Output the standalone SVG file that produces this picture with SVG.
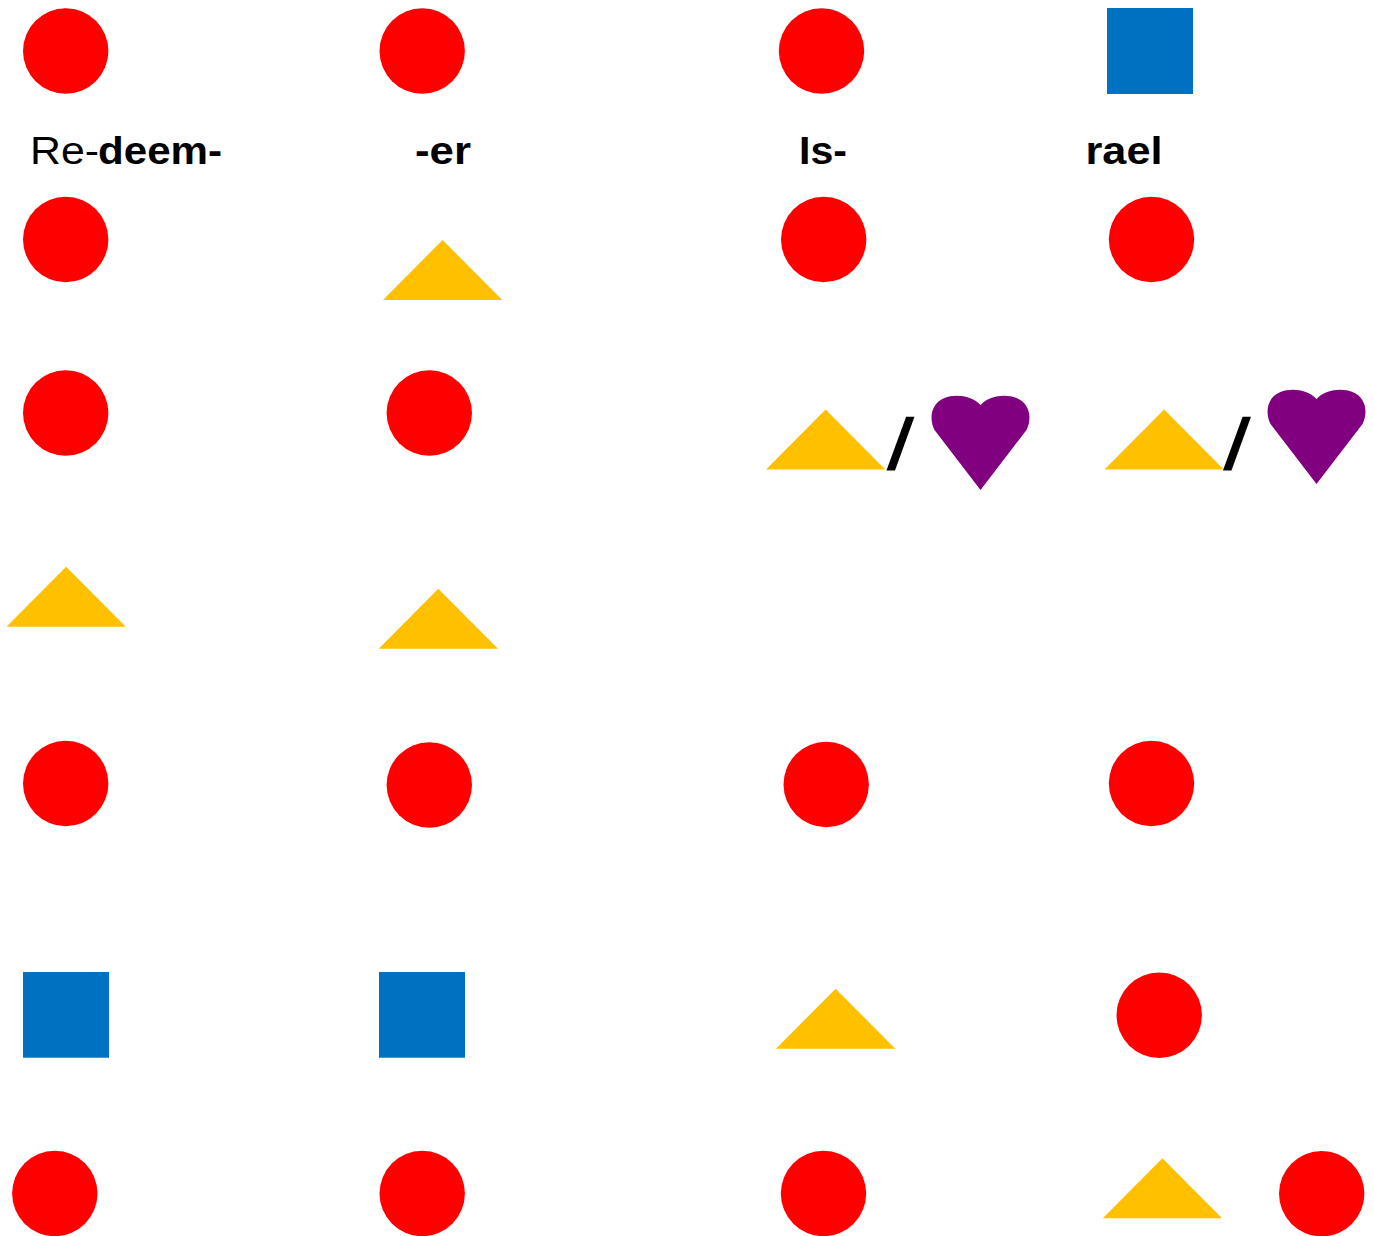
<svg xmlns="http://www.w3.org/2000/svg" xmlns:xlink="http://www.w3.org/1999/xlink" width="1374" height="1236" viewBox="0 0 1374 1236">
<style>
.c{fill:#FF0000}
.t{fill:#FFC000}
.s{fill:#0070C0}
.h{fill:#800080}
.lbl{font-family:"Liberation Sans",Arial,sans-serif;font-size:38px;fill:#000}
.b{font-weight:bold}
.sl{font-family:"Liberation Sans",Arial,sans-serif;font-size:72px;font-weight:bold;fill:#000}
</style>
<defs>
<path id="tri" d="M0 0 L59.6 -60 L119.3 0 Z"/>
<path id="heart" d="M50 7 C59 -3 76 -4 86 0 C99 5 102 20 96 32 L50 92 L4 32 C-2 20 1 5 14 0 C24 -4 41 -3 50 7 Z"/>
</defs>
<rect width="1374" height="1236" fill="#fff"/>

<g id="r1c1"><circle class="c" cx="65.7" cy="51" r="42.7"/></g>
<g id="r1c2"><circle class="c" cx="422.2" cy="51" r="42.7"/></g>
<g id="r1c3"><circle class="c" cx="821.5" cy="51" r="42.7"/></g>
<g id="r1c4"><rect class="s" x="1107" y="8" width="86" height="86"/></g>

<g id="lbl1"><text class="lbl" y="164"><tspan x="30" textLength="69" lengthAdjust="spacingAndGlyphs">Re-</tspan><tspan class="b" x="98" textLength="124" lengthAdjust="spacingAndGlyphs">deem-</tspan></text></g>
<g id="lbl2"><text class="lbl b" x="415" y="164" textLength="56" lengthAdjust="spacingAndGlyphs">-er</text></g>
<g id="lbl3"><text class="lbl b" x="799" y="164" textLength="48" lengthAdjust="spacingAndGlyphs">Is-</text></g>
<g id="lbl4"><text class="lbl b" x="1085.5" y="164" textLength="77" lengthAdjust="spacingAndGlyphs">rael</text></g>

<g id="r2c1"><circle class="c" cx="65.7" cy="239.5" r="42.7"/></g>
<g id="r2c2"><use xlink:href="#tri" href="#tri" class="t" x="383" y="300"/></g>
<g id="r2c3"><circle class="c" cx="823.7" cy="239.5" r="42.7"/></g>
<g id="r2c4"><circle class="c" cx="1151.5" cy="239.5" r="42.7"/></g>

<g id="r3c1"><circle class="c" cx="65.7" cy="413" r="42.7"/></g>
<g id="r3c2"><circle class="c" cx="429.3" cy="413" r="42.7"/></g>
<g id="r3c3">
<use xlink:href="#tri" href="#tri" class="t" x="766" y="469.5"/>
<text class="sl" transform="translate(886 469) skewX(-10)" x="0" y="0">/</text>
<use xlink:href="#heart" href="#heart" class="h" x="930.5" y="398"/>
</g>
<g id="r3c4">
<use xlink:href="#tri" href="#tri" class="t" x="1104.5" y="469.5"/>
<text class="sl" transform="translate(1222.5 469) skewX(-10)" x="0" y="0">/</text>
<use xlink:href="#heart" href="#heart" class="h" x="1266.5" y="392"/>
</g>

<g id="r4c1"><use xlink:href="#tri" href="#tri" class="t" x="6.5" y="626.7"/></g>
<g id="r4c2"><use xlink:href="#tri" href="#tri" class="t" x="378.7" y="648.7"/></g>

<g id="r5c1"><circle class="c" cx="65.7" cy="783.5" r="42.7"/></g>
<g id="r5c2"><circle class="c" cx="429.3" cy="785" r="42.7"/></g>
<g id="r5c3"><circle class="c" cx="826.2" cy="784.5" r="42.7"/></g>
<g id="r5c4"><circle class="c" cx="1151.5" cy="783.5" r="42.7"/></g>

<g id="r6c1"><rect class="s" x="23" y="972" width="86" height="85.7"/></g>
<g id="r6c2"><rect class="s" x="379" y="972" width="86" height="85.7"/></g>
<g id="r6c3"><use xlink:href="#tri" href="#tri" class="t" x="776" y="1048.7"/></g>
<g id="r6c4"><circle class="c" cx="1159.2" cy="1015.2" r="42.7"/></g>

<g id="r7c1"><circle class="c" cx="54.8" cy="1193.5" r="42.7"/></g>
<g id="r7c2"><circle class="c" cx="422.2" cy="1193.5" r="42.7"/></g>
<g id="r7c3"><circle class="c" cx="823.5" cy="1193.5" r="42.7"/></g>
<g id="r7c4"><use xlink:href="#tri" href="#tri" class="t" x="1102.8" y="1218.3"/></g>
<g id="r7c5"><circle class="c" cx="1321.7" cy="1193.7" r="42.7"/></g>
</svg>
